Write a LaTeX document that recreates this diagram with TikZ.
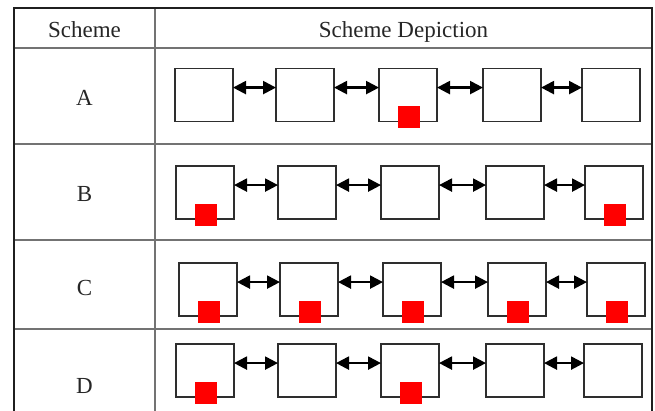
\documentclass[tikz,border=0pt]{standalone}
\usepackage{fontspec}
\setmainfont{Liberation Serif}
\usetikzlibrary{arrows.meta,calc}

\tikzset{
  frame/.style={draw=black!88, line width=1.5pt},
  rule/.style={draw=black!55, line width=1.2pt},
  label/.style={font=\fontsize{23}{23}\selectfont, text=black!85, anchor=base, inner sep=0pt},
  cell/.style={draw=black!82, line width=1.3pt, minimum width=58pt, minimum height=53pt,
               inner sep=0pt, outer sep=0pt, fill=white},
  token/.style={fill=red, minimum size=22pt, inner sep=0pt, outer sep=0pt},
  link/.style={line width=2.3pt, black, {Triangle[length=13pt,width=13pt]}-{Triangle[length=13pt,width=13pt]}},
}

% one row of five linked cells: #1 = row prefix, #2 = vertical centre, #3..#7 = left edges
\newcommand{\cellrow}[7]{%
  \node[cell] (#11) at (#3+29,#2) {};
  \node[cell] (#12) at (#4+29,#2) {};
  \node[cell] (#13) at (#5+29,#2) {};
  \node[cell] (#14) at (#6+29,#2) {};
  \node[cell] (#15) at (#7+29,#2) {};
  \foreach \i/\j in {1/2,2/3,3/4,4/5}{
    \draw[link] ($(#1\i.north east)!0.36!(#1\i.south east)$) -- ($(#1\j.north west)!0.36!(#1\j.south west)$);
  }%
}
% red token sitting on the bottom edge of a cell
\newcommand{\tokenat}[2]{\node[token] (#1) at ($(#2.south)+(1,-4)$) {};}

\begin{document}
\begin{tikzpicture}[x=1pt,y=-1pt]
  \useasboundingbox (0,0) rectangle (655,411);

  % table rules
  \draw[rule] (14,48) -- (652,48);
  \draw[rule] (14,144) -- (652,144);
  \draw[rule] (14,240) -- (652,240);
  \draw[rule] (14,329) -- (652,329);
  \draw[rule] (155,8) -- (155,411);
  \draw[frame] (14,411) -- (14,8) -- (652,8) -- (652,411);

  % headings and row names
  \node[label] (h1) at (84.5,38) {Scheme};
  \node[label] (h2) at (403.5,38) {Scheme Depiction};
  \node[label] (la) at (84.5,106) {A};
  \node[label] (lb) at (84.5,202) {B};
  \node[label] (lc) at (84.5,295) {C};
  \node[label] (ld) at (84.5,393) {D};

  % scheme A
  \cellrow{a}{95}{175}{276}{379}{483}{582}
  \tokenat{ta3}{a3}

  % scheme B
  \cellrow{b}{192.5}{176}{278}{381}{486}{585}
  \tokenat{tb1}{b1}
  \tokenat{tb5}{b5}

  % scheme C
  \cellrow{c}{289.5}{179}{280}{383}{488}{587}
  \tokenat{tc1}{c1}
  \tokenat{tc2}{c2}
  \tokenat{tc3}{c3}
  \tokenat{tc4}{c4}
  \tokenat{tc5}{c5}

  % scheme D
  \cellrow{d}{370.5}{176}{278}{381}{486}{584}
  \tokenat{td1}{d1}
  \tokenat{td3}{d3}
\end{tikzpicture}
\end{document}
